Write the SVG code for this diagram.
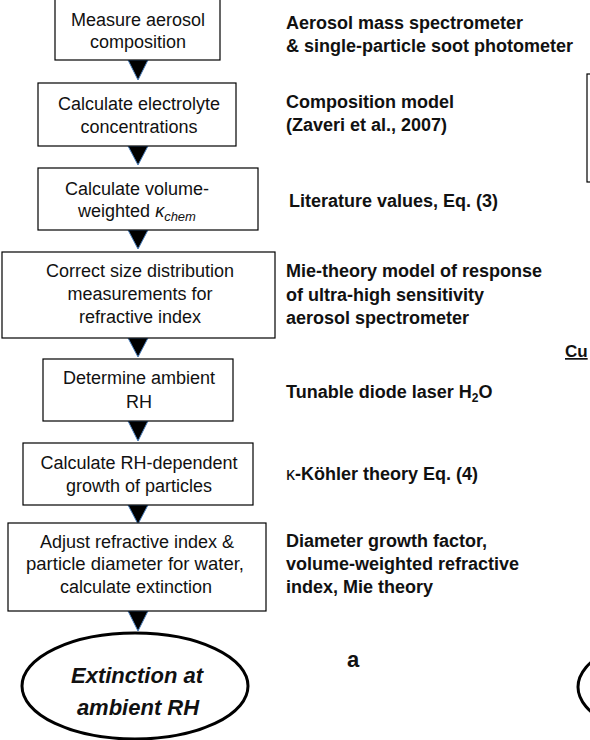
<svg xmlns="http://www.w3.org/2000/svg" width="590" height="740" viewBox="0 0 590 740">
<style>
.box{fill:#fff;stroke:#000;stroke-width:1.2}
.bt{font-family:"Liberation Sans",Arial,sans-serif;font-size:18px;fill:#111;text-anchor:middle}
.lb{font-family:"Liberation Sans",Arial,sans-serif;font-size:18px;font-weight:bold;fill:#111}
.arr{fill:#000;stroke:#4a7ebb;stroke-width:1}
.ell{fill:#fff;stroke:#000;stroke-width:3}
.et{font-family:"Liberation Sans",Arial,sans-serif;font-size:22px;font-weight:bold;font-style:italic;fill:#111;text-anchor:middle}
</style>
<rect width="590" height="740" fill="#fff"/>
<g id="connectors">
<polygon class="arr" points="128,60 148,60 138,80"/>
<polygon class="arr" points="128,146 148,146 138,165"/>
<polygon class="arr" points="128,230 148,230 138,249"/>
<polygon class="arr" points="128,338 148,338 138,357"/>
<polygon class="arr" points="128,421 148,421 138,441"/>
<polygon class="arr" points="128,505 148,505 138,524"/>
<polygon class="arr" points="128,611 148,611 138,631"/>
</g>
<g id="n1"><rect class="box" x="55" y="-2" width="165" height="62"/>
<text class="bt" x="138" y="26">Measure aerosol</text><text class="bt" x="138" y="48">composition</text></g>
<g id="n2"><rect class="box" x="38" y="83" width="198" height="63"/>
<text class="bt" x="139" y="110">Calculate electrolyte</text><text class="bt" x="139" y="133">concentrations</text></g>
<g id="n3"><rect class="box" x="38" y="168" width="220" height="62"/>
<text class="bt" x="137" y="195">Calculate volume-</text><text class="bt" x="137" y="217">weighted <tspan font-style="italic">κ</tspan><tspan font-style="italic" style="font-size:13px" dy="4">chem</tspan></text></g>
<g id="n4"><rect class="box" x="2" y="252" width="273" height="86"/>
<text class="bt" x="140" y="277">Correct size distribution</text><text class="bt" x="140" y="300">measurements for</text><text class="bt" x="140" y="323">refractive index</text></g>
<g id="n5"><rect class="box" x="43" y="359" width="190" height="62"/>
<text class="bt" x="139" y="384">Determine ambient</text><text class="bt" x="139" y="408">RH</text></g>
<g id="n6"><rect class="box" x="23" y="443" width="230" height="62"/>
<text class="bt" x="139" y="469">Calculate RH-dependent</text><text class="bt" x="139" y="492">growth of particles</text></g>
<g id="n7"><rect class="box" x="8" y="523" width="258" height="88"/>
<text class="bt" x="137" y="548">Adjust refractive index &amp;</text><text class="bt" x="135" y="570" style="font-size:18.5px">particle diameter for water,</text><text class="bt" x="136" y="593">calculate extinction</text></g>
<g id="n8"><ellipse class="ell" cx="135" cy="686" rx="113" ry="53"/>
<text class="et" x="137" y="683">Extinction at</text><text class="et" x="138" y="715">ambient RH</text></g>
<g id="labels">
<text class="lb" x="286" y="29">Aerosol mass spectrometer</text>
<text class="lb" x="286" y="52">&amp; single-particle soot photometer</text>
<text class="lb" x="286" y="108">Composition model</text>
<text class="lb" x="286" y="131">(Zaveri et al., 2007)</text>
<text class="lb" x="289" y="207">Literature values, Eq. (3)</text>
<text class="lb" x="286" y="277">Mie-theory model of response</text>
<text class="lb" x="286" y="301">of ultra-high sensitivity</text>
<text class="lb" x="286" y="324">aerosol spectrometer</text>
<text class="lb" x="286" y="398">Tunable diode laser H<tspan style="font-size:12px" dy="4">2</tspan><tspan dy="-4">O</tspan></text>
<text class="lb" x="286" y="480"><tspan font-weight="normal">κ</tspan>-Köhler theory Eq. (4)</text>
<text class="lb" x="286" y="547">Diameter growth factor,</text>
<text class="lb" x="286" y="570">volume-weighted refractive</text>
<text class="lb" x="286" y="593">index, Mie theory</text>
<text class="lb" x="347" y="667" style="font-size:22px">a</text>
</g>
<g id="partial">
<rect class="box" x="587" y="74" width="30" height="108"/>
<text class="lb" x="565" y="357" style="font-size:17px" text-decoration="underline">Cu</text>
<ellipse class="ell" cx="691" cy="687" rx="113" ry="53"/>
</g>
</svg>
